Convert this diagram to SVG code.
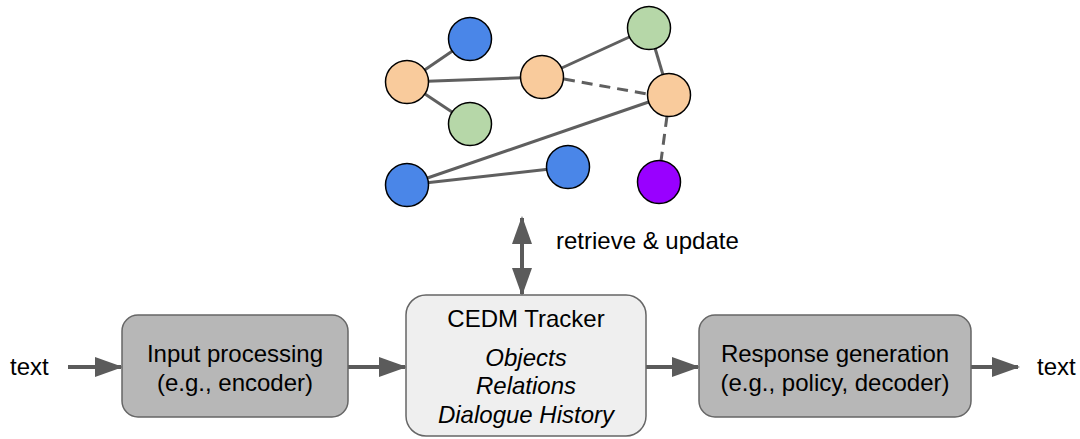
<svg xmlns="http://www.w3.org/2000/svg" width="1080" height="439" viewBox="0 0 1080 439">
<style>
text{font-family:"Liberation Sans",Arial,sans-serif;font-size:24px;fill:#000}
.it{font-style:italic}
.box{fill:#b7b7b7;stroke:#666;stroke-width:1.5}
.cedm{fill:#efefef;stroke:#666;stroke-width:1.5}
.arr{stroke:#5b5b5b;stroke-width:4;fill:none}
.e{stroke:#5f5f5f;stroke-width:3;fill:none}
.d{stroke-dasharray:11 7}
.n{stroke:#000;stroke-width:1.5}
.o{fill:#f9cb9c}.g{fill:#b6d7a8}.b{fill:#4a86e8}.p{fill:#9900ff}
</style>
<defs>
<marker id="ah" markerWidth="7" markerHeight="5" refX="6.5" refY="2.5" orient="auto-start-reverse" markerUnits="strokeWidth">
<path d="M0,0 L7,2.5 L0,5 Z" fill="#5b5b5b"/>
</marker>
</defs>
<g id="edges">
<line class="e" x1="407" y1="82" x2="470" y2="39"/>
<line class="e" x1="407" y1="82" x2="470" y2="124"/>
<line class="e" x1="407" y1="82" x2="542" y2="77"/>
<line class="e" x1="542" y1="77" x2="649" y2="28"/>
<line class="e d" x1="564" y1="79" x2="647" y2="94"/>
<line class="e" x1="649" y1="28" x2="669" y2="95"/>
<line class="e d" x1="667" y1="116" x2="661" y2="161"/>
<line class="e" x1="407" y1="185" x2="669" y2="95"/>
<line class="e" x1="407" y1="185" x2="568" y2="167"/>
</g>
<g id="graph-nodes">
<circle id="n1" class="n b" cx="470" cy="39" r="21.5"/>
<circle id="n2" class="n o" cx="407" cy="82" r="21.5"/>
<circle id="n3" class="n g" cx="470" cy="124" r="21.5"/>
<circle id="n4" class="n o" cx="542" cy="77" r="21.5"/>
<circle id="n5" class="n g" cx="649" cy="28" r="21.5"/>
<circle id="n6" class="n o" cx="669" cy="95" r="21.5"/>
<circle id="n7" class="n b" cx="407" cy="185" r="21.5"/>
<circle id="n8" class="n b" cx="568" cy="167" r="21.5"/>
<circle id="n9" class="n p" cx="659" cy="182" r="21.5"/>
</g>
<g id="connectors">
<line class="arr" x1="68" y1="367" x2="121" y2="367" marker-end="url(#ah)"/>
<line class="arr" x1="348" y1="367" x2="405" y2="367" marker-end="url(#ah)"/>
<line class="arr" x1="646" y1="367" x2="698" y2="367" marker-end="url(#ah)"/>
<line class="arr" x1="971" y1="367" x2="1018" y2="367" marker-end="url(#ah)"/>
<line class="arr" x1="522" y1="218" x2="522" y2="294" marker-start="url(#ah)" marker-end="url(#ah)"/>
<text x="556" y="249">retrieve &amp; update</text>
</g>
<g id="in-text"><text x="10" y="375">text</text></g>
<g id="input">
<rect class="box" x="122" y="315" width="226" height="102" rx="16"/>
<text x="235" y="362" text-anchor="middle">Input processing</text>
<text x="235" y="391" text-anchor="middle">(e.g., encoder)</text>
</g>
<g id="tracker">
<rect class="cedm" x="406" y="295" width="240" height="141" rx="20"/>
<text x="526" y="327" text-anchor="middle">CEDM Tracker</text>
<text class="it" x="526" y="366" text-anchor="middle">Objects</text>
<text class="it" x="526" y="394" text-anchor="middle">Relations</text>
<text class="it" x="526" y="423" text-anchor="middle">Dialogue History</text>
</g>
<g id="response">
<rect class="box" x="699" y="315" width="272" height="102" rx="16"/>
<text x="835" y="362" text-anchor="middle">Response generation</text>
<text x="835" y="391" text-anchor="middle">(e.g., policy, decoder)</text>
</g>
<g id="out-text"><text x="1037" y="375">text</text></g>
</svg>
